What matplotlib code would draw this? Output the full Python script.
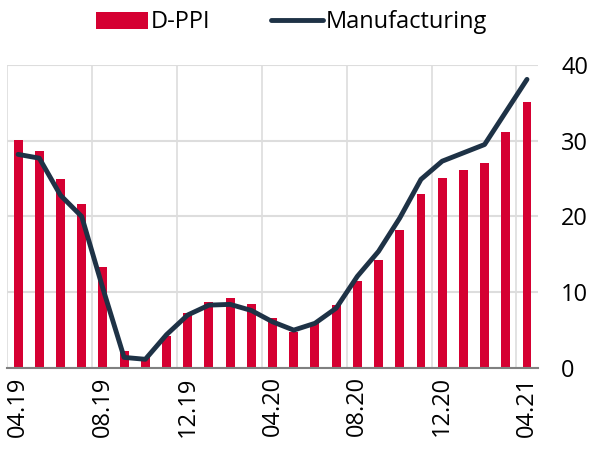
import matplotlib
matplotlib.use("Agg")
import matplotlib.pyplot as plt
from matplotlib.ticker import FixedLocator

plt.rcParams['font.family'] = ['Open Sans', 'DejaVu Sans']

# Data
months = ['04.19', '05.19', '06.19', '07.19', '08.19', '09.19', '10.19', '11.19',
          '12.19', '01.20', '02.20', '03.20', '04.20', '05.20', '06.20', '07.20',
          '08.20', '09.20', '10.20', '11.20', '12.20', '01.21', '02.21', '03.21',
          '04.21']
dppi = [30.1, 28.7, 25.0, 21.6, 13.3, 2.3, 1.4, 4.2, 7.2, 8.75, 9.2, 8.45, 6.6,
        4.8, 5.9, 8.3, 11.5, 14.3, 18.2, 23.0, 25.1, 26.1, 27.1, 31.2, 35.1]
manufacturing = [28.2, 27.7, 22.8, 20.0, 10.5, 1.4, 1.15, 4.4, 7.0, 8.3, 8.4, 7.6,
                 6.1, 5.0, 5.9, 7.9, 12.1, 15.4, 19.8, 24.9, 27.3, 28.4, 29.5,
                 33.8, 38.1]

red = '#D50032'
navy = '#1E3246'

fig = plt.figure(figsize=(5.89, 4.5), dpi=100)
ax = fig.add_axes([0.0127, 0.1822, 0.9, 0.6734])

x = list(range(len(months)))
bars = ax.bar(x, dppi, width=0.42, color=red, label='D-PPI', zorder=2)
line, = ax.plot(x, manufacturing, color=navy, lw=3.5, label='Manufacturing',
                solid_capstyle='round', solid_joinstyle='round', zorder=3)

ax.set_xlim(-0.5, len(months) - 0.5)
ax.set_ylim(0, 40)

# x ticks: labels every 4 months, gridlines on category boundaries
ax.set_xticks(x[::4])
ax.set_xticklabels(months[::4], rotation=90, fontsize=17, va='top')
ax.xaxis.set_minor_locator(FixedLocator([i - 0.5 for i in x[::4]]))
ax.grid(axis='x', which='minor', color='#DDDDDD', lw=1.2, zorder=0)
ax.tick_params(axis='x', which='both', length=0, pad=6)

ax.yaxis.tick_right()
ax.set_yticks([0, 10, 20, 30, 40])
ax.tick_params(axis='y', length=0, pad=17, labelsize=17)
ax.grid(axis='y', color='#DDDDDD', lw=1.5, zorder=0)

for side in ['top', 'left', 'right']:
    ax.spines[side].set_visible(False)
ax.spines['bottom'].set_color('#808080')
ax.spines['bottom'].set_linewidth(1.5)
ax.spines['bottom'].set_zorder(4)

fig.legend([bars, line], ['D-PPI', 'Manufacturing'], loc='center',
           bbox_to_anchor=(0.495, 0.95), ncol=2, frameon=False,
           fontsize=17, handlelength=2.2, handletextpad=0.1, columnspacing=2.6,
           handleheight=0.7)

plt.savefig('out.png', dpi=100)
